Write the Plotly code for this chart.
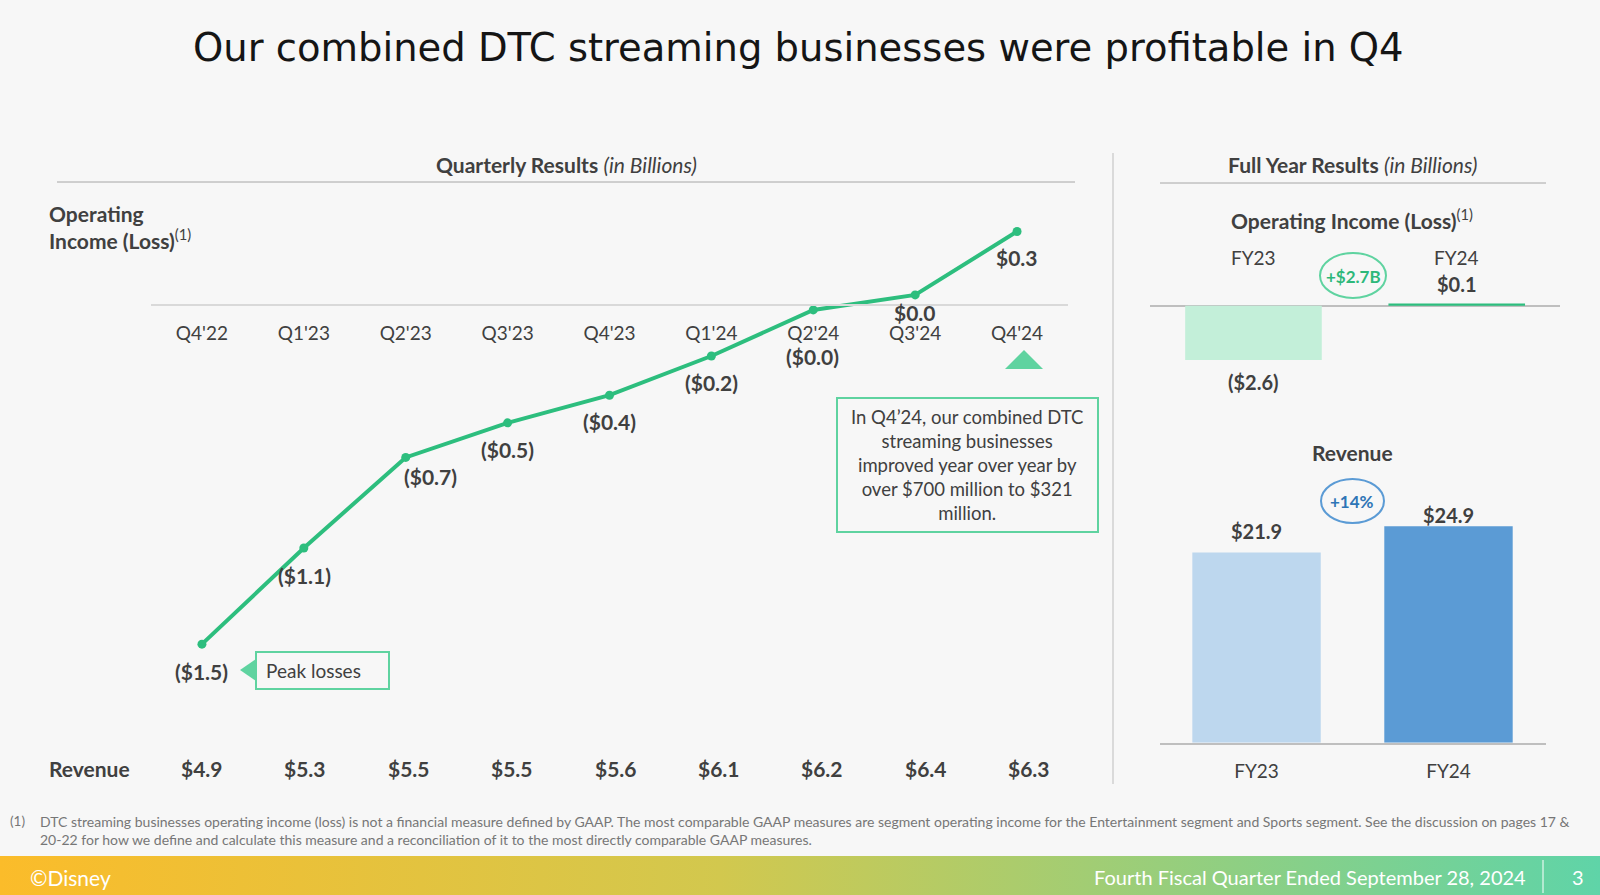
"""
Disney Q4 FY24 slide - combined DTC streaming operating income
"""

import plotly.graph_objects as go

########## Chart data (in billions) ##########
QUARTERS = ["Q4'22", "Q1'23", "Q2'23", "Q3'23", "Q4'23", "Q1'24", "Q2'24", "Q3'24", "Q4'24"]
QTR_OP_INCOME = [-1.47, -1.053, -0.66, -0.51, -0.39, -0.22, -0.02, 0.045, 0.32]
QTR_REVENUE = [4.9, 5.3, 5.5, 5.5, 5.6, 6.1, 6.2, 6.4, 6.3]

YEARS = ["FY23", "FY24"]
FY_OP_INCOME = [-2.6, 0.1]
FY_REVENUE = [21.9, 24.9]
OP_CHANGE = "+$2.7B"
REV_CHANGE = "+14%"
##############################################

W, H = 1600, 895
FONT = "Lato"
TXT = "#404040"
GREEN = "#2DBE7E"
LIGHT_GREEN = "#5FD3A0"


def money(v):
    return f"(${abs(v):.1f})" if v < 0 else f"${v:.1f}"


def py(y):
    # pixel row (from top) -> paper y
    return 1 - y / H


def px(x):
    return x / W


def text(s, x, y, size=18, color=TXT, xanchor="center", **kw):
    return dict(text=s, x=px(x), y=py(y), xref="paper", yref="paper",
                xanchor=xanchor, yanchor="middle", showarrow=False,
                font=dict(family=FONT, size=size, color=color), **kw)


def label(s, x, y, xref, yref, size=21, **kw):
    return dict(text=s, x=x, y=y, xref=xref, yref=yref, yanchor="middle", showarrow=False,
                font=dict(family=FONT, size=size, color=TXT), **kw)


fig = go.Figure()

# ---------- quarterly line ----------
LINE_ZERO, LINE_SCALE = 305.3, 230.5     # pixel row of 0, px per $1B
LINE_TOP, LINE_BOT = 195, 700
fig.add_trace(go.Scatter(
    x=QUARTERS, y=QTR_OP_INCOME, mode="lines+markers",
    line=dict(color=GREEN, width=4), marker=dict(color=GREEN, size=9),
    xaxis="x", yaxis="y", hoverinfo="skip"))

# ---------- full year operating income ----------
OI_ZERO, OI_SCALE = 305.7, 20.9
OI_TOP, OI_BOT = 240, 380
fig.add_trace(go.Bar(
    x=YEARS, y=FY_OP_INCOME, width=0.672,
    marker=dict(color=["#C3EFD9", GREEN], line_width=0),
    xaxis="x2", yaxis="y2", hoverinfo="skip"))

# ---------- full year revenue ----------
REV_BASE, REV_SCALE = 742.7, 8.69
REV_TOP = 500
fig.add_trace(go.Bar(
    x=YEARS, y=FY_REVENUE, width=0.669,
    marker=dict(color=["#BDD7EE", "#5B9BD5"], line_width=0),
    xaxis="x3", yaxis="y3", hoverinfo="skip"))

# ---------- footer band ----------
fig.add_trace(go.Scatter(
    x=[0, 1, 1, 0, 0], y=[0, 0, 1, 1, 0], mode="lines", fill="toself",
    line=dict(width=0),
    fillgradient=dict(type="horizontal",
                      colorscale=[[0, "#FBBC2A"], [0.45, "#D2C84E"], [1, "#5FD4A8"]]),
    xaxis="x4", yaxis="y4", hoverinfo="skip"))

annotations = []

# title
annotations.append(dict(text="Our combined DTC streaming businesses were profitable in Q4",
                        x=px(798), y=py(47), xref="paper", yref="paper", yanchor="middle",
                        showarrow=False,
                        font=dict(family="DejaVu Sans", size=38.5, color="#151515")))

# section headers
annotations.append(text("<b>Quarterly Results</b> <i>(in Billions)</i>", 566, 164, size=21))
annotations.append(text("<b>Full Year Results</b> <i>(in Billions)</i>", 1352, 165, size=21))
annotations.append(text("<b>Operating<br>Income (Loss)</b><sup>(1)</sup>", 47, 227, size=21,
                        xanchor="left", align="left"))

# quarterly point labels (dx, dy in pixels relative to the marker)
label_offsets = [(0, 27), (1, 27), (25, 19), (0, 27), (0, 26), (0, 26), (-1, 47), (0, 18), (0, 26)]
for q, v, (dx, dy) in zip(QUARTERS, QTR_OP_INCOME, label_offsets):
    annotations.append(label(f"<b>{money(v)}</b>", q, v, "x", "y", xshift=dx, yshift=-dy))

# revenue row
annotations.append(text("<b>Revenue</b>", 47, 768, size=21, xanchor="left"))
for i, (q, r) in enumerate(zip(QUARTERS, QTR_REVENUE)):
    annotations.append(label(f"<b>${r:.1f}</b>", q, py(768), "x", "paper", xshift=i * 1.5))

# callouts
annotations.append(text("Peak losses", 264, 670, size=19, xanchor="left"))
annotations.append(text("In Q4’24, our combined DTC<br>streaming businesses<br>improved year over year by"
                        "<br>over $700 million to $321<br>million.", 967, 465, size=18.5))

# full year operating income
annotations.append(text("<b>Operating Income (Loss)</b><sup>(1)</sup>", 1352, 219, size=21))
for yr in YEARS:
    annotations.append(label(yr, yr, py(257), "x2", "paper", size=19))
oi_shift = [-22, 20]
for yr, v, s in zip(YEARS, FY_OP_INCOME, oi_shift):
    annotations.append(label(f"<b>{money(v)}</b>", yr, v, "x2", "y2", size=20, yshift=s))
annotations.append(text(f"<b>{OP_CHANGE}</b>", 1353, 276, size=17, color="#2DB87A"))

# full year revenue
annotations.append(text("<b>Revenue</b>", 1352, 453, size=21))
rev_shift = [21, 11]
for yr, v, s in zip(YEARS, FY_REVENUE, rev_shift):
    annotations.append(label(f"<b>${v:.1f}</b>", yr, v, "x3", "y3", size=20, yshift=s))
annotations.append(text(f"<b>{REV_CHANGE}</b>", 1352, 501, size=17, color="#2E75B6"))

# footnote
annotations.append(text("(1)", 8, 821, size=13.5, color="#767676", xanchor="left"))
annotations.append(text("DTC streaming businesses operating income (loss) is not a financial measure defined by GAAP. "
                        "The most comparable GAAP measures are segment operating income for the Entertainment segment "
                        "and Sports segment. See the discussion on pages 17 &", 38, 821, size=14,
                        color="#767676", xanchor="left"))
annotations.append(text("20-22 for how we define and calculate this measure and a reconciliation of it to the most "
                        "directly comparable GAAP measures.", 38, 839, size=14, color="#767676",
                        xanchor="left"))

# footer
annotations.append(text("©Disney", 28, 877, size=21, color="white", xanchor="left"))
annotations.append(text("Fourth Fiscal Quarter Ended September 28, 2024", 1528, 877, size=20,
                        color="white", xanchor="right"))
annotations.append(text("3", 1578, 877, size=20, color="white"))

shapes = [
    # header rules and divider
    dict(type="line", xref="paper", yref="paper", x0=px(57), x1=px(1075), y0=py(182), y1=py(182),
         line=dict(color="#A6A6A6", width=1)),
    dict(type="line", xref="paper", yref="paper", x0=px(1160), x1=px(1546), y0=py(183), y1=py(183),
         line=dict(color="#A6A6A6", width=1)),
    dict(type="line", xref="paper", yref="paper", x0=px(1113), x1=px(1113), y0=py(153), y1=py(784),
         line=dict(color="#D0D0D0", width=1.5)),
    # peak losses box + pointer
    dict(type="rect", xref="paper", yref="paper", x0=px(256), x1=px(389), y0=py(689), y1=py(652),
         line=dict(color=LIGHT_GREEN, width=2)),
    dict(type="path", xref="paper", yref="paper", line_width=0, fillcolor=LIGHT_GREEN,
         path=f"M {px(256)} {py(659)} L {px(240)} {py(670)} L {px(256)} {py(681)} Z"),
    # Q4'24 marker triangle
    dict(type="path", xref="paper", yref="paper", line_width=0, fillcolor=LIGHT_GREEN,
         path=f"M {px(1005)} {py(369)} L {px(1024)} {py(350)} L {px(1043)} {py(369)} Z"),
    # commentary box
    dict(type="rect", xref="paper", yref="paper", x0=px(837), x1=px(1098), y0=py(532), y1=py(398),
         line=dict(color=LIGHT_GREEN, width=2)),
    # change bubbles
    dict(type="circle", xref="paper", yref="paper", x0=px(1320), x1=px(1386), y0=py(298), y1=py(253),
         line=dict(color=LIGHT_GREEN, width=2)),
    dict(type="circle", xref="paper", yref="paper", x0=px(1321), x1=px(1384), y0=py(523), y1=py(479),
         line=dict(color="#5B9BD5", width=2)),
    # footer divider
    dict(type="line", xref="paper", yref="paper", x0=px(1543), x1=px(1543), y0=py(860), y1=py(893),
         line=dict(color="white", width=1)),
]

fig.update_layout(
    width=W, height=H, margin=dict(l=0, r=0, t=0, b=0),
    paper_bgcolor="#F7F7F7", plot_bgcolor="rgba(0,0,0,0)",
    showlegend=False, annotations=annotations, shapes=shapes,
    xaxis=dict(domain=[px(151), px(1068)], range=[-0.5, 8.5], anchor="free",
               position=py(LINE_ZERO), showline=True, linecolor="#D9D9D9", linewidth=2,
               showgrid=False, zeroline=False, ticks="", ticklabelstandoff=11,
               tickfont=dict(family=FONT, size=19, color=TXT)),
    yaxis=dict(domain=[py(LINE_BOT), py(LINE_TOP)],
               range=[-(LINE_BOT - LINE_ZERO) / LINE_SCALE, (LINE_ZERO - LINE_TOP) / LINE_SCALE],
               visible=False),
    xaxis2=dict(domain=[px(1150), px(1560)], range=[-0.509, 1.508], anchor="y2", visible=False),
    yaxis2=dict(domain=[py(OI_BOT), py(OI_TOP)], anchor="x2",
                range=[-(OI_BOT - OI_ZERO) / OI_SCALE, (OI_ZERO - OI_TOP) / OI_SCALE],
                showgrid=False, showticklabels=False, showline=False,
                zeroline=True, zerolinecolor="#BFBFBF", zerolinewidth=2),
    xaxis3=dict(domain=[px(1160), px(1546)], range=[-0.503, 1.508], anchor="y3",
                showline=True, linecolor="#BFBFBF", linewidth=2, showgrid=False, ticks="",
                ticklabelstandoff=10, tickfont=dict(family=FONT, size=19, color=TXT)),
    yaxis3=dict(domain=[py(REV_BASE), py(REV_TOP)], anchor="x3",
                range=[0, (REV_BASE - REV_TOP) / REV_SCALE], visible=False),
    xaxis4=dict(domain=[0, 1], range=[0, 1], anchor="y4", visible=False),
    yaxis4=dict(domain=[0, py(856)], range=[0, 1], anchor="x4", visible=False),
)

# page body has an 8px default margin; drop it so the slide fills the window
fig.write_html("out.html", config={"displayModeBar": False},
               post_script="document.body.style.margin='0';")
